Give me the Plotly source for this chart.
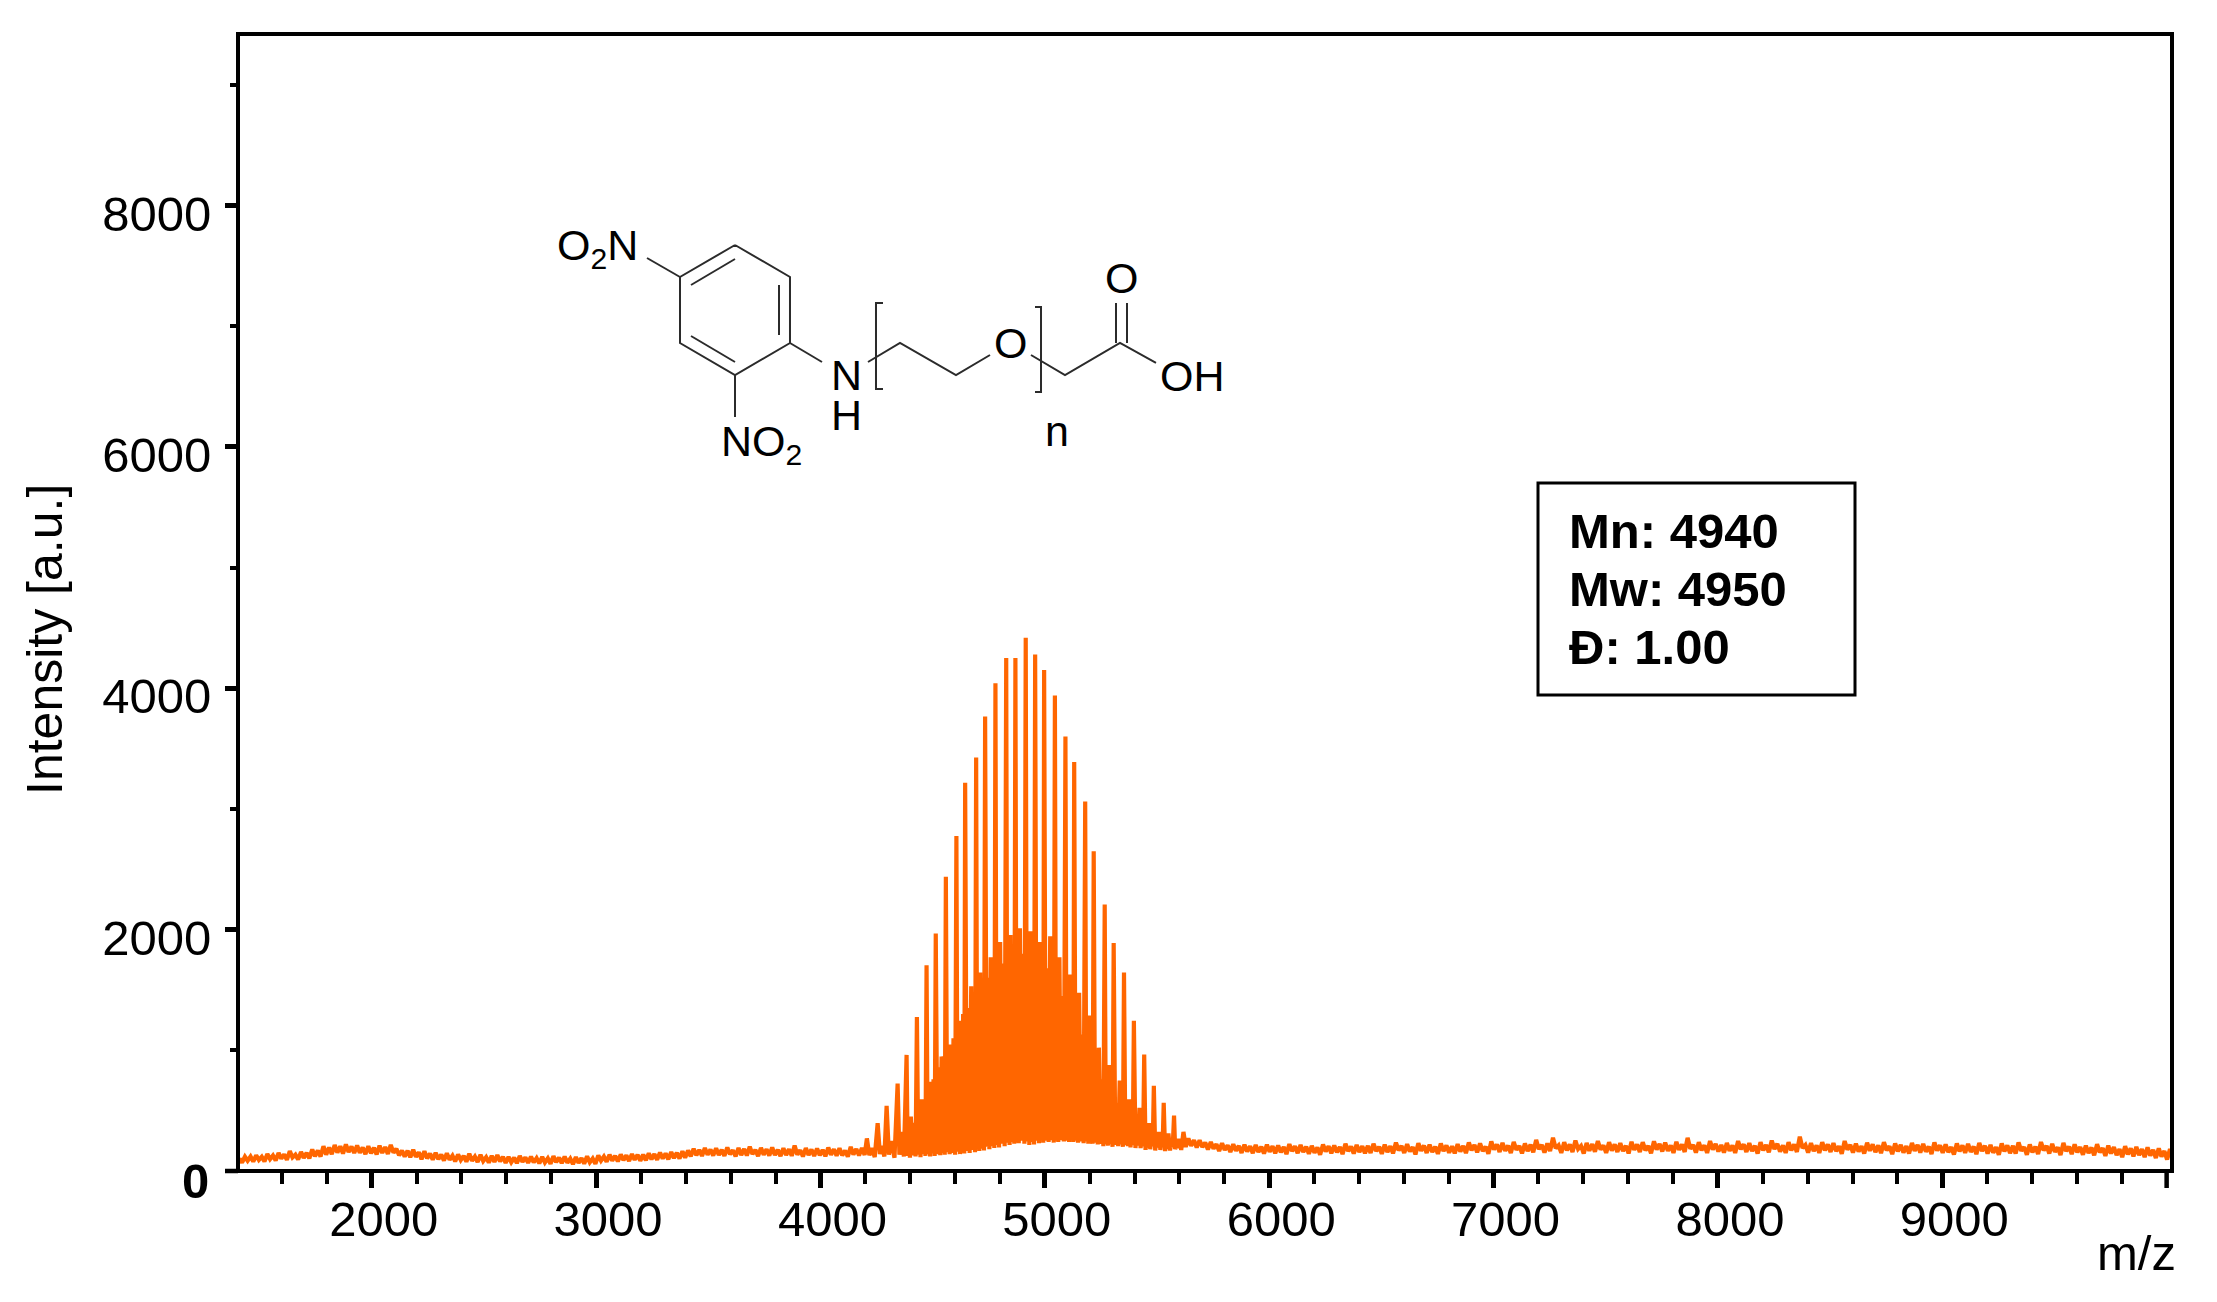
import plotly.graph_objects as go
import numpy as np

# strongest peak series
main_mz = [4207, 4255, 4295, 4344, 4384, 4430, 4473, 4514, 4559, 4606, 4645, 4694, 4734, 4780, 4828, 4869, 4915,
           4957, 4997, 5045, 5092, 5131, 5180, 5218, 5267, 5307, 5353, 5397, 5443, 5486, 5530, 5576, 5618]
main_int = [270, 397, 540, 724, 962, 1276, 1704, 1967, 2437, 2776, 3217, 3426, 3766, 4042, 4251, 4251, 4419,
            4280, 4150, 3940, 3601, 3388, 3062, 2649, 2208, 1888, 1644, 1244, 965, 705, 565, 460, 324]

# second peak series
second_mz = [4229, 4274, 4315, 4360, 4403, 4451, 4494, 4540, 4581, 4627, 4672, 4712, 4759, 4801, 4847, 4889, 4936,
             4979, 5024, 5065, 5113, 5153, 5198, 5241, 5287, 5334, 5376, 5422, 5465, 5509, 5551, 5597]
second_int = [190, 207, 248, 324, 451, 594, 740, 949, 1047, 1244, 1530, 1644, 1771, 1898, 1955, 2012, 1986,
              1898, 1945, 1771, 1628, 1476, 1288, 1022, 879, 749, 594, 524, 397, 324, 311, 267]

# smaller peaks between them, these make the solid part
shoulder_mz = [4394, 4417, 4441, 4462, 4483, 4504, 4527, 4549, 4570, 4593, 4616, 4636, 4658, 4683, 4703, 4723, 4747,
               4770, 4790, 4814, 4838, 4858, 4879, 4902, 4925, 4946, 4968, 4988, 5010, 5034, 5055, 5078, 5102, 5122,
               5142, 5166, 5189, 5208, 5230, 5254, 5277, 5297, 5320, 5343, 5365, 5387, 5410, 5432, 5454, 5475, 5497,
               5520, 5541, 5564, 5586]
shoulder_int = [320, 400, 500, 580, 660, 760, 860, 950, 1000, 1100, 1150, 1300, 1350, 1450, 1500, 1520, 1600,
                1600, 1680, 1720, 1720, 1780, 1750, 1800, 1780, 1720, 1720, 1700, 1680, 1620, 1540, 1450, 1390, 1300,
                1240, 1130, 1020, 930, 850, 760, 690, 620, 560, 490, 430, 400, 360, 320, 300, 280, 265,
                250, 245, 230, 220]

# minima between the peaks
valley_mz = [4218, 4242, 4265, 4285, 4305, 4330, 4352, 4372, 4389, 4399, 4410, 4424, 4436, 4446, 4457, 4468, 4478,
             4489, 4499, 4509, 4521, 4534, 4545, 4554, 4565, 4576, 4587, 4600, 4611, 4622, 4632, 4641, 4652, 4665,
             4678, 4689, 4699, 4708, 4718, 4729, 4741, 4753, 4765, 4775, 4785, 4796, 4808, 4821, 4833, 4843, 4853,
             4864, 4874, 4884, 4896, 4909, 4920, 4931, 4941, 4952, 4963, 4974, 4984, 4993, 5004, 5017, 5029, 5040,
             5050, 5060, 5072, 5085, 5097, 5108, 5118, 5127, 5137, 5148, 5160, 5173, 5185, 5194, 5203, 5213, 5224,
             5236, 5248, 5261, 5272, 5282, 5292, 5302, 5314, 5327, 5339, 5348, 5359, 5371, 5382, 5392, 5404, 5416,
             5427, 5438, 5449, 5460, 5470, 5481, 5492, 5503, 5515, 5525, 5536, 5546, 5558, 5570, 5581, 5592, 5608, 5628]
valley_int = [130, 115, 140, 120, 135, 110, 135, 120, 125, 110, 130, 120, 135, 115, 140, 125, 140,
              120, 145, 125, 140, 130, 150, 135, 155, 140, 150, 135, 160, 140, 155, 145, 165, 150,
              175, 155, 180, 165, 185, 170, 200, 180, 205, 190, 215, 195, 225, 205, 235, 215, 240,
              225, 235, 230, 250, 225, 245, 215, 240, 220, 250, 230, 255, 235, 250, 240, 255, 235,
              250, 240, 255, 245, 250, 240, 255, 240, 250, 235, 245, 230, 245, 225, 240, 225, 235,
              220, 225, 205, 220, 210, 225, 200, 215, 205, 220, 200, 215, 205, 195, 215, 190, 210,
              190, 205, 175, 195, 180, 205, 170, 195, 175, 200, 165, 185, 170, 195, 180, 190, 175, 200]

# noise floor below the envelope, top and bottom of the band, one reading every 25 m/z
floor_left_start = 1410
floor_left_top = [105, 118, 120, 130, 118, 140, 128, 150, 138, 165, 135, 158, 150, 178, 170, 205,
                  195, 215, 205, 220, 202, 212, 195, 205, 192, 210, 198, 216, 185, 170, 168, 175,
                  155, 163, 145, 151, 135, 147, 127, 137, 125, 143, 120, 135, 115, 125, 133, 117,
                  117, 110, 125, 113, 120, 107, 117, 105, 123, 111, 119, 103, 115, 107, 121, 103,
                  130, 120, 135, 125, 137, 130, 140, 133, 135, 147, 140, 153, 145, 157, 150, 163,
                  170, 185, 175, 190, 178, 188, 175, 195, 172, 190, 182, 202, 175, 192, 180, 195,
                  175, 188, 180, 210, 172, 190, 178, 186, 175, 194, 180, 188, 170, 200, 182, 190]
floor_left_bottom = [70, 85, 78, 92, 80, 98, 88, 102, 92, 112, 95, 108, 105, 122, 120, 135,
                     140, 152, 145, 158, 150, 152, 140, 148, 138, 150, 142, 152, 130, 120, 115, 118,
                     97, 105, 93, 99, 87, 93, 80, 90, 77, 85, 75, 83, 70, 75, 80, 67,
                     73, 65, 75, 67, 71, 63, 70, 60, 73, 65, 69, 57, 67, 61, 71, 59,
                     85, 77, 87, 80, 90, 83, 93, 85, 89, 97, 93, 103, 97, 107, 103, 111,
                     122, 130, 125, 135, 128, 132, 125, 138, 122, 132, 128, 140, 124, 134, 128, 132,
                     124, 132, 126, 135, 120, 132, 125, 130, 122, 134, 126, 130, 118, 136, 128, 132]

# noise floor above the envelope
floor_right_start = 5640
floor_right_top = [270, 255, 255, 235, 240, 222, 230, 212, 222, 208, 218, 205, 215, 200, 218, 205,
                   212, 198, 222, 205, 215, 200, 208, 195, 220, 205, 212, 198, 225, 202, 216, 205,
                   208, 225, 200, 218, 205, 235, 208, 222, 198, 230, 210, 218, 200, 228, 212, 205,
                   222, 208, 236, 215, 228, 202, 245, 220, 232, 210, 240, 208, 228, 218, 258, 215,
                   228, 275, 212, 238, 220, 252, 208, 232, 222, 248, 212, 238, 220, 230, 208, 242,
                   220, 238, 208, 246, 224, 234, 212, 242, 220, 275, 216, 238, 212, 248, 225, 215,
                   232, 212, 248, 220, 230, 208, 238, 216, 252, 225, 212, 238, 220, 285, 216, 230,
                   212, 238, 220, 230, 205, 248, 216, 226, 206, 234, 220, 212, 238, 204, 228, 216,
                   206, 232, 216, 225, 202, 236, 212, 220, 198, 228, 212, 224, 202, 232, 208, 216,
                   198, 228, 212, 208, 236, 198, 220, 202, 240, 208, 224, 195, 232, 202, 220, 198,
                   210, 194, 222, 190, 210, 198, 180, 205, 188, 200, 180, 196, 174, 188, 165, 182]
floor_right_bottom = [210, 195, 198, 178, 185, 165, 175, 158, 168, 150, 162, 148, 158, 145, 160, 148,
                      155, 140, 165, 148, 158, 142, 152, 135, 162, 148, 155, 140, 165, 145, 158, 148,
                      150, 165, 142, 158, 146, 172, 150, 162, 138, 168, 150, 158, 142, 165, 152, 146,
                      162, 148, 172, 155, 165, 142, 178, 158, 168, 150, 175, 146, 165, 155, 182, 152,
                      165, 188, 150, 172, 158, 182, 145, 168, 160, 178, 150, 170, 158, 165, 146, 175,
                      158, 172, 146, 178, 162, 168, 150, 175, 158, 185, 152, 172, 150, 178, 162, 152,
                      168, 150, 180, 158, 165, 145, 172, 155, 182, 160, 150, 172, 158, 190, 152, 165,
                      150, 172, 158, 165, 142, 178, 152, 162, 145, 168, 156, 148, 172, 140, 162, 152,
                      145, 168, 152, 160, 140, 170, 150, 156, 136, 162, 150, 158, 140, 166, 145, 152,
                      135, 162, 148, 145, 168, 135, 155, 140, 172, 145, 158, 132, 165, 140, 155, 135,
                      148, 130, 155, 125, 145, 132, 115, 138, 122, 132, 115, 128, 108, 120, 95, 112]

x_ticks = [2000, 3000, 4000, 5000, 6000, 7000, 8000, 9000]
x_labels = ["2000", "3000", "4000", "5000", "6000", "7000", "8000", "9000"]
x_minor = [m for m in range(1600, 10000, 200) if m % 1000 != 0]
y_ticks = [2000, 4000, 6000, 8000]
y_labels = ["2000", "4000", "6000", "8000"]
y_minor = [1000, 3000, 5000, 7000, 9000]
stats_lines = ["Mn: 4940", "Mw: 4950", "Đ: 1.00"]

W, H = 2217, 1302
# inner plot edges, the 4px axis lines sit outside these
L, R, T, B = 240, 47, 36, 133
FONT = "Liberation Sans"
ORANGE = "#FF6600"


def px_x(v):
    return (v - L) / (W - L - R)


def px_y(v):
    return 1 - (v - T) / (H - T - B)


floor_mz = ([floor_left_start + 25 * i for i in range(len(floor_left_top))]
            + [floor_left_start + 12 + 25 * i for i in range(len(floor_left_bottom))]
            + [floor_right_start + 25 * i for i in range(len(floor_right_top))]
            + [floor_right_start + 12 + 25 * i for i in range(len(floor_right_bottom))])
floor_int = floor_left_top + floor_left_bottom + floor_right_top + floor_right_bottom

mz = np.array(floor_mz + main_mz + second_mz + shoulder_mz + valley_mz)
intensity = np.array(floor_int + main_int + second_int + shoulder_int + valley_int)
order = np.argsort(mz)

fig = go.Figure()
fig.add_trace(go.Scatter(x=mz[order], y=intensity[order], mode="lines",
                         line=dict(color=ORANGE, width=4.2, simplify=False),
                         showlegend=False, hoverinfo="skip"))

# structure drawing, bonds in page pixels
bonds = [
    [(735, 245), (790, 277), (790, 343), (735, 375), (680, 343), (680, 277), (735, 245)],
    [(691, 285), (735, 259)], [(779, 285), (779, 335)], [(691, 336), (735, 362)],
    [(647, 258), (680, 277)], [(735, 375), (735, 417)], [(790, 343), (822, 362)],
    [(868, 362), (900, 343), (956, 375), (990, 355)],
    [(1031, 355), (1065, 375), (1120, 343), (1156, 363)],
    [(1116, 303), (1116, 343)], [(1127, 303), (1127, 343)],
    [(883, 303), (876, 303), (876, 389), (883, 389)],
    [(1035, 307), (1041, 307), (1041, 392), (1035, 392)],
]
shapes = []
for b in bonds:
    path = "M " + " L ".join(f"{px_x(x):.5f},{px_y(y):.5f}" for x, y in b)
    shapes.append(dict(type="path", xref="paper", yref="paper", path=path,
                       line=dict(color="#2b2b2b", width=2)))
shapes.append(dict(type="rect", xref="paper", yref="paper", x0=px_x(1538), x1=px_x(1855),
                   y0=px_y(695), y1=px_y(483), line=dict(color="black", width=3), fillcolor="white"))
# the two unlabelled end ticks
shapes.append(dict(type="line", xref="paper", yref="paper", x0=px_x(225), x1=px_x(238),
                   y0=px_y(1171), y1=px_y(1171), line=dict(color="black", width=4.5)))
shapes.append(dict(type="line", xref="x", yref="paper", x0=10000, x1=10000,
                   y0=px_y(1173), y1=px_y(1188), line=dict(color="black", width=4.5)))

annotations = []


def add_text(text, x, y, size=49, anchor="center", angle=0):
    annotations.append(dict(text=text, xref="paper", yref="paper", x=px_x(x), y=px_y(y), showarrow=False,
                            xanchor=anchor, yanchor="middle", textangle=angle,
                            font=dict(family=FONT, size=size, color="black")))


atoms = [("O<sub>2</sub>N", 597, 248), ("N", 846, 375), ("H", 846, 415), ("O", 1010, 343), ("O", 1121, 278),
         ("OH", 1192, 376), ("NO<sub>2</sub>", 761, 444), ("n", 1057, 431)]
for text, x, y in atoms:
    add_text(text, x, y, size=43)

for line, y in zip(stats_lines, [531, 589, 647]):
    add_text(f"<b>{line}</b>", 1567, y, anchor="left")

add_text("<b>0</b>", 195, 1181)
add_text("Intensity [a.u.]", 45, 640, size=50, angle=-90)
add_text("m/z", 2136, 1253)

axis_style = dict(showgrid=False, zeroline=False, showline=True, mirror=True, linecolor="black", linewidth=4,
                  tickcolor="black", tickwidth=4.5, ticks="outside",
                  tickfont=dict(family=FONT, size=49, color="black"))

# the labels in the reference sit a little right of their ticks
fig.update_xaxes(range=[1413, 10015], tickvals=x_ticks, ticktext=x_labels, ticklen=15, ticklabelstandoff=-11,
                 ticklabelshift=12,
                 minor=dict(tickvals=x_minor, ticks="outside", ticklen=10.5, tickwidth=4, tickcolor="black"),
                 **axis_style)
fig.update_yaxes(range=[16.6, 9404], tickvals=y_ticks, ticktext=y_labels, ticklen=11, ticklabelstandoff=4,
                 ticklabelshift=8,
                 minor=dict(tickvals=y_minor, ticks="outside", ticklen=6, tickwidth=4, tickcolor="black"),
                 **axis_style)

fig.update_layout(width=W, height=H, margin=dict(l=L, r=R, t=T, b=B), plot_bgcolor="white", paper_bgcolor="white",
                  showlegend=False, shapes=shapes, annotations=annotations, font=dict(family=FONT))

# the page's default body margin would push the whole figure 8px in
fig.write_html("out.html", config=dict(displayModeBar=False), post_script="document.body.style.margin='0';")
